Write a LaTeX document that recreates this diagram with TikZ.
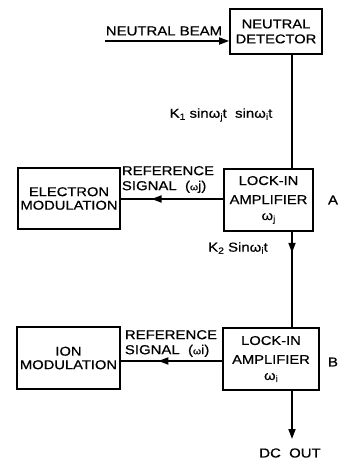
\documentclass[tikz,border=0pt]{standalone}
\usepackage{fontspec}
\setmainfont{Liberation Sans}[FakeStretch=1.15,FakeBold=0.6]
\usetikzlibrary{arrows.meta,decorations.markings}
\newcommand{\lowr}[1]{\raisebox{-0.3ex}{\small #1}}
\begin{document}
\begin{tikzpicture}[x=1pt,y=-1pt,
  box/.style={draw,line width=1.7pt,minimum width=#1,inner sep=0pt,align=center,font=\fontsize{12.8}{13.5}\selectfont},
  lbl/.style={inner sep=0pt,align=left,font=\fontsize{13}{15}\selectfont},
  conn/.style={line width=1.7pt},
  tip/.style={-{Triangle[length=10pt,width=7pt]}},
  midarrow/.style={postaction={decorate},decoration={markings,mark=at position #1 with {\arrow{Triangle[length=10pt,width=7pt]}}}}
]
\useasboundingbox (0,0) rectangle (352,462);
\node[box=92pt,minimum height=45pt,font=\fontsize{12.8}{15}\selectfont] (det) at (276,31.5) {NEUTRAL\\DETECTOR};
\node[box=102pt,minimum height=61pt] (elec) at (69,198.5) {ELECTRON\\MODULATION};
\node[box=89pt,minimum height=62pt,font=\fontsize{12.8}{19}\selectfont] (lockA) at (268.5,200) {LOCK-IN\\AMPLIFIER\\[-3pt]ω\lowr{j}};
\node[box=103pt,minimum height=62pt] (ion) at (68.5,358) {ION\\MODULATION};
\node[box=96pt,minimum height=62pt,font=\fontsize{12.8}{19}\selectfont] (lockB) at (271,359) {LOCK-IN\\AMPLIFIER\\[-3pt]ω\lowr{i}};
\coordinate (vx) at (292,0);
\coordinate (beam) at (105,41);
\coordinate (out) at (292,439);

\draw[conn,tip] (beam) -- (beam -| det.west);
\draw[conn] (det.south -| vx) -- (lockA.north -| vx);
\draw[conn,midarrow=0.22] (lockA.south -| vx) -- (lockB.north -| vx);
\draw[conn,tip] (lockB.south -| vx) -- (out);
\draw[conn,midarrow=0.7] (lockA.west |- 0,199) -- (elec.east |- 0,199);
\draw[conn,midarrow=0.63] (lockB.west |- 0,361) -- (ion.east |- 0,361);

\node[lbl] (nb) at (164,31) {NEUTRAL BEAM};
\node[lbl] (k1) at (221,115) {K\lowr{1} sinω\lowr{j}t\ \ sinω\lowr{i}t};
\node[lbl] (refA) at (168,179.5) {REFERENCE\\SIGNAL\ \ ({\small ω}j)};
\node[lbl] (a) at (333,200) {A};
\node[lbl] (k2) at (238,248) {K\lowr{2} Sinω\lowr{i}t};
\node[lbl] (refB) at (171,343.5) {REFERENCE\\SIGNAL\ \ ({\small ω}i)};
\node[lbl] (b) at (333,362) {B};
\node[lbl] (dc) at (290,453) {DC\ \ OUT};
\end{tikzpicture}
\end{document}
